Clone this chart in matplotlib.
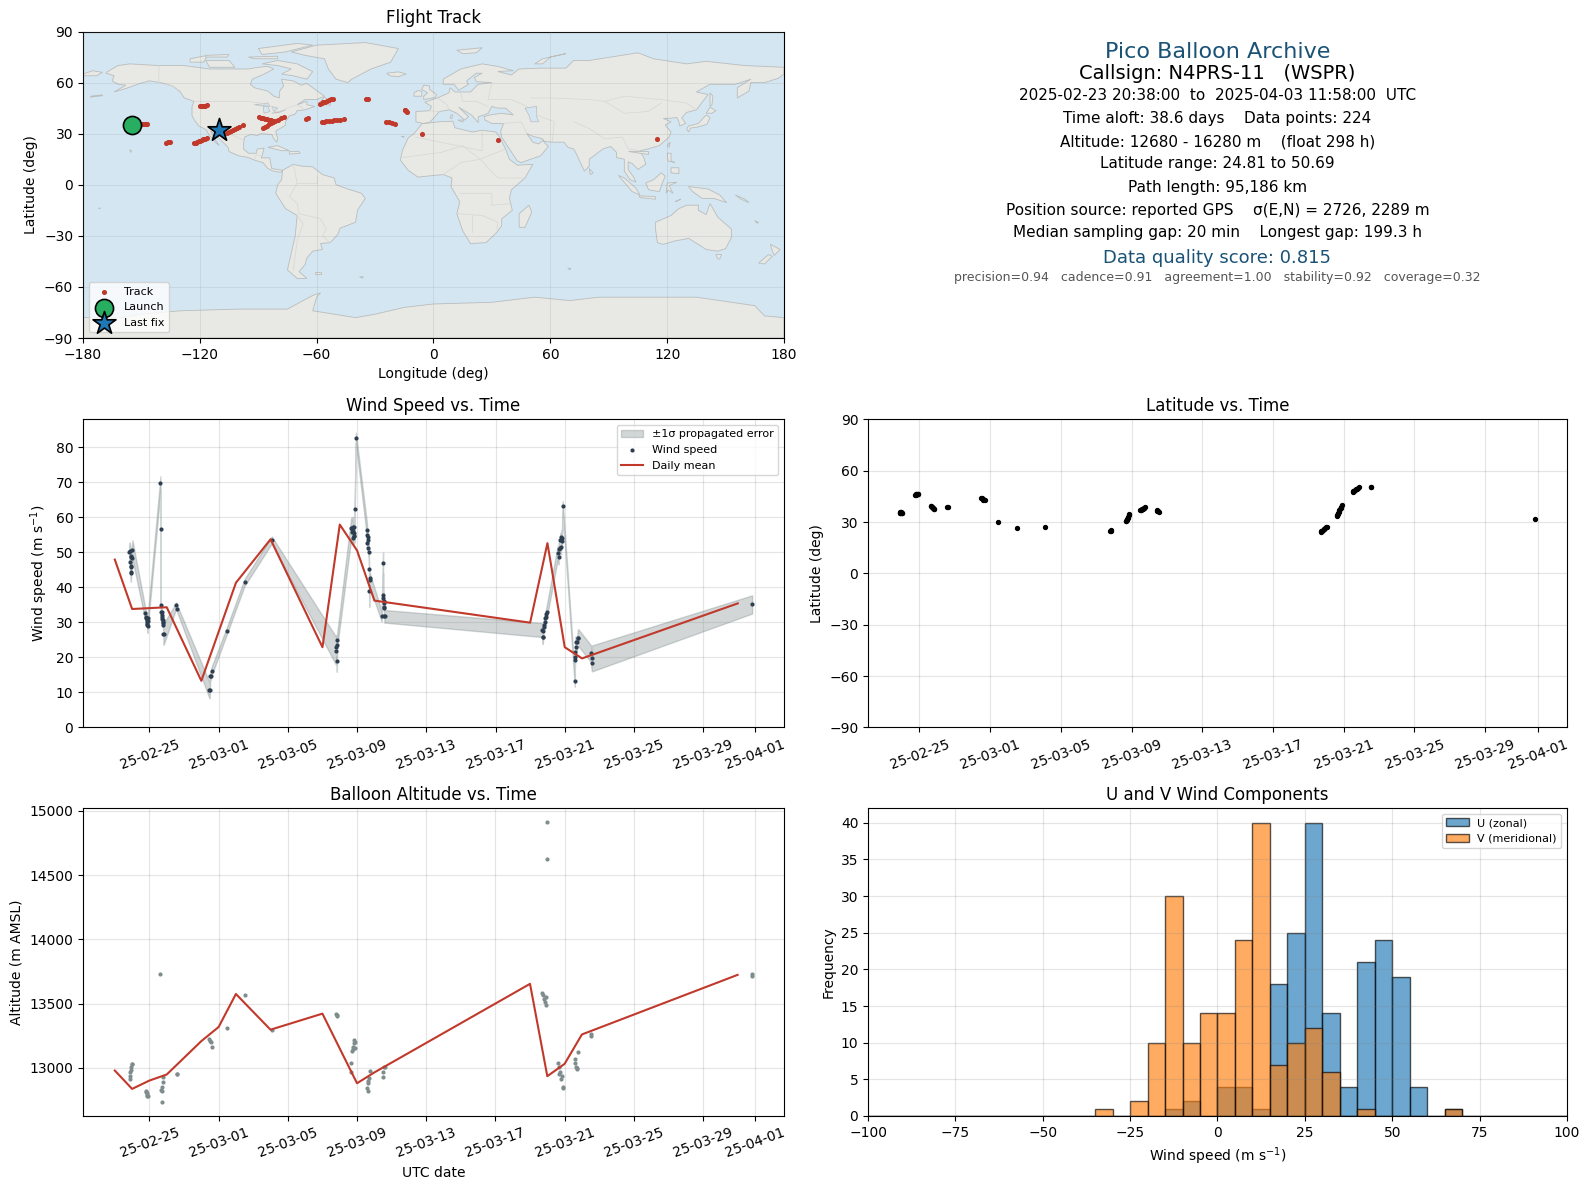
import numpy as np
import matplotlib
matplotlib.use("Agg")
import matplotlib.pyplot as plt
import matplotlib.dates as mdates
from matplotlib.patches import Polygon

# ---------- map outlines (lon, lat) ----------
north_america = [(-168,66),(-162,70),(-156,71),(-141,70),(-128,70),(-115,68),(-108,68),(-95,68),(-90,69),(-85,69.5),(-82,68),(-87,65),(-93,62),(-94,59),(-92,57),(-85,55),(-82,52),(-79,51),(-79,55),(-77,58),(-78,62),(-72,61),(-68,58.5),(-65,59.5),(-62,57),(-56,52),(-60,50),(-66,50),(-70,47),(-65,49),(-65,47),(-61,46),(-66,44),(-70,43.5),(-71,41.5),(-74,40.5),(-76,37),(-76,35),(-81,31.5),(-80,27),(-80.5,25),(-82,27),(-83,29.5),(-85,29.7),(-89,30),(-90,29),(-94,29.5),(-97,28),(-97.5,24),(-97.5,21),(-95,18.5),(-91,18.5),(-90.5,21),(-87,21.5),(-88,17),(-88.5,15.8),(-84,15.8),(-83.5,12),(-83,9.5),(-80,9),(-77.5,8.5),(-78,7.5),(-80,7.5),(-83,8.3),(-85.5,10),(-87.5,13),(-92,14.5),(-95,16),(-100,17),(-105,19.5),(-105.5,22),(-109,26),(-112.5,30),(-114.5,31.5),(-113,28),(-110,23),(-112,25),(-115,29),(-117,32.5),(-120.5,34.5),(-122.5,37.5),(-124,40.5),(-124,46),(-123,49),(-128,51),(-130,54.5),(-134,58),(-140,60),(-146,61),(-152,59),(-158,56.5),(-164,54.5),(-158,58.5),(-162,59),(-165,61),(-164,64),(-168,65.5)]
south_america = [(-77.5,8.5),(-72,12),(-68,11),(-62,10.5),(-57,6),(-51,4),(-50,0),(-44,-2.5),(-37,-5),(-35,-8),(-39,-15),(-40,-22),(-48,-25.5),(-49,-29),(-53,-34),(-58,-34.5),(-57,-38),(-62,-39),(-65,-43),(-66,-47),(-69,-51),(-65,-55),(-70,-55),(-75,-50),(-73,-40),(-71,-30),(-70,-18),(-76,-14),(-81,-5),(-80,0),(-78,3)]
africa = [(-6,35.8),(3,37),(10,37.3),(11,33.5),(20,31),(25,32),(32,31),(34,28),(37,21),(39,15),(43,11.5),(51,12),(47,4),(40,-3),(39,-8),(40.5,-15),(35,-20),(35,-24),(32.5,-28),(27,-34),(19,-34.5),(15,-27),(12,-17),(13.5,-10),(9,-1),(9.5,4),(5,6),(-4,5),(-8,4.5),(-13,8.5),(-17,14.5),(-16,20),(-13,27.5),(-10,30)]
eurasia = [(-9,37),(-9,43),(-2,43.5),(-1,46),(-4.5,48.5),(2,51),(8,54),(8.5,57),(11,54.5),(19,54.5),(23,59),(30,60),(22,60.5),(21,63),(25,65.5),(22,65.5),(17,61),(18,59),(13,55.5),(10.5,59),(5,59),(5,62),(14,68),(25,71),(33,69.5),(41,67),(33,66.5),(40,64.5),(44,68),(55,68.5),(68,68.5),(72,73),(80,73),(105,77.5),(113,74),(130,71),(140,72.5),(160,70),(180,69),(180,65),(177,62.5),(170,60),(163,60),(162,55),(156,51),(156,57),(163,62),(155,59),(142,59),(135,54.5),(141,53),(135,44),(130,42.5),(127.5,39.5),(129.5,36),(126.5,34.5),(126,37),(125,39.5),(121,39),(118,39),(122,37),(119,35),(122,31),(121,28),(116,23),(110,21),(106,20),(108,16),(109,12),(105,9),(102,12.5),(100,13.5),(100,9),(103,4),(104,1.5),(101,3),(98,8),(98,15),(94,16),(94,19),(91,22.5),(87,21),(80,15),(80,11),(77.5,8),(73,19),(72,21),(69,22),(67,25),(61,25),(57,25.5),(56,27),(51,28.5),(48,30),(51,25),(54,24),(56,26),(59,22.5),(55,17),(45,13),(43,14),(39,21),(35,28),(34.5,31.5),(36,36),(30,36),(26.5,38),(26,40),(29,41),(35,42),(41,41),(37,45),(33,45),(30,46),(28,42),(26,41),(23,40),(23,36.5),(19.5,41),(13,45.5),(18,40),(16,38),(12,42),(8,44),(3,43),(0,39),(-2,36.7),(-5.5,36)]
greenland = [(-73,78),(-60,82),(-35,83.5),(-18,80),(-22,72),(-32,68),(-42,62),(-44,60),(-50,62),(-54,68),(-56,74),(-66,76)]
australia = [(114,-22),(122,-18),(126,-14),(130,-12),(136,-12),(136,-15),(140,-17.5),(142,-11),(146,-19),(153,-26),(153,-31),(150,-37.5),(146,-39),(140,-38),(136,-35),(131,-31.5),(124,-33),(118,-35),(115,-34),(114,-26)]
antarctica = [(-180,-90),(-180,-78),(-160,-78),(-150,-76),(-130,-74),(-100,-73),(-75,-73),(-62,-65),(-58,-63.5),(-60,-66),(-62,-74),(-40,-78),(-30,-76),(-15,-72),(0,-70),(30,-69),(52,-66),(70,-68),(85,-66),(110,-66),(135,-66),(165,-71),(170,-77),(180,-78),(180,-90)]
islands = [
    [(-80,73),(-70,71),(-62,66.5),(-65,62),(-72,64),(-78,65),(-73,68),(-80,70),(-88,71)],
    [(-117,73),(-105,73),(-102,69),(-115,69)],
    [(-125,74),(-116,76),(-118,72),(-125,72)],
    [(-90,80),(-70,83),(-62,82),(-76,78),(-88,76.5)],
    [(-95,75),(-80,75.5),(-80,74),(-92,74)],
    [(-117,76),(-105,76.5),(-106,75),(-117,75)],
    [(-59,47.5),(-53,46.7),(-53,49),(-56,51.5)],
    [(-24,65.5),(-18,66.3),(-14,65),(-18,63.5),(-22.5,64)],
    [(-5,50),(1,51.3),(1.5,53),(-2,56),(-2,58),(-5,58.5),(-6,56),(-3,54),(-5,52)],
    [(-10,52),(-6,52),(-6,55),(-8,55.3),(-10,54)],
    [(12,79),(25,80.5),(22,77.5),(15,77)],
    [(52,71),(56,74),(68,77),(60,75),(56,71)],
    [(130,33),(131,34.5),(136,36),(140,41),(142,39.5),(140.5,35.5),(136,34),(132,33.3),(131,31)],
    [(140,42),(142,45.5),(145,43.5),(143,42)],
    [(142,46),(142,54),(143.5,52),(143,47)],
    [(120,23),(121.5,25),(121,22)],
    [(120,18.5),(122,18.5),(122,14),(124,13),(120.5,14)],
    [(122,10),(126,10),(126,6.5),(122,7)],
    [(109,1),(113,3),(117,7),(119,5),(117.5,1),(116,-4),(110.5,-3)],
    [(95,5.5),(98,4),(104,-2),(106,-6),(102,-4)],
    [(105.5,-6.5),(114,-7),(114,-8.5),(106,-7.5)],
    [(119.5,-5),(120,1),(125,1.5),(121,-0.5),(123,-5),(120.5,-3)],
    [(131,-1),(141,-2.5),(147,-6),(150.5,-10.5),(144,-8),(138,-8),(133,-4)],
    [(145,-41),(148,-41),(147,-43.5),(146,-43.5)],
    [(173,-35),(178,-38),(175,-41.5),(174,-39)],
    [(172,-41),(174,-42),(170,-46.5),(167,-46)],
    [(49,-12),(50.5,-16),(47,-25),(44,-25),(44,-17)],
    [(80,9.5),(82,7),(80.5,6)],
    [(-85,22),(-80,23),(-74,20),(-78,20)],
    [(-74,19.5),(-69,19.5),(-68.5,18.5),(-74,18)],
    [(-61,-51.5),(-58,-51.5),(-58,-52.3),(-61,-52.3)],
    [(-156,20.5),(-155,20),(-155.5,19)],
    [(-180,65),(-175,67),(-170,66),(-173,64),(-180,64)],
    [(155,-6),(160,-8.5),(162,-10.5),(158,-8.5)],
    [(165,-21),(167,-22.2),(166,-22.5)],
    [(-172,-14),(-171,-14),(-171.5,-13.5)],
    [(69,-49),(70.5,-49),(70,-50)],
    [(9,41),(9.8,41),(9.5,39),(8.5,39)],
    [(12.5,38),(15.5,38),(15,36.8)],
    [(-16.5,28.5),(-15,28.3),(-15.5,27.8)],
    [(-38,-54),(-36,-54),(-36.5,-54.8)],
    [(-176,52),(-170,52.8),(-170,52.3),(-176,51.5)],
    [(126,-9),(127,-8.4),(124,-10)],
    [(100,20),(110,20),(110,18.3)],
]
lakes = [
    [(-92,47),(-85,48),(-84,46),(-88,46.5)],
    [(-87.5,46),(-85,46),(-84,43),(-87,42)],
    [(-83,46),(-80,45),(-82,43)],
    [(-83,42),(-79,43),(-76,44),(-79,42.5)],
    [(47,45),(53,46),(53,40),(54,37),(50,37),(49,41)],
]
borders = [
    [(-123,49),(-95,49),(-89,48),(-83,46),(-82,43),(-79,43),(-75,45),(-70,47),(-67,45)],
    [(-141,70),(-141,60),(-134,58),(-130,55)],
    [(-117,32.5),(-108,31.5),(-104,29.5),(-97,26)],
    [(-92,14.5),(-91,17.5),(-88,17)],
    [(-72,12),(-70,1),(-74,-7),(-70,-11),(-69,-17),(-58,-20),(-55,-26),(-57,-30),(-53,-34)],
    [(-70,-18),(-67,-23),(-70,-33),(-72,-50)],
    [(-60,5),(-60,1),(-70,1)],
    [(-9,28),(12,23),(25,20),(25,32)],
    [(-16,16),(4,19),(15,23),(24,15),(37,21)],
    [(5,6),(14,13),(24,15),(33,4),(47,4)],
    [(13.5,-5),(30,-5),(30,-12),(40.5,-11)],
    [(12,-17),(25,-18),(33,-22),(32.5,-26)],
    [(20,-28),(20,-18)],
    [(30,60),(28,50),(40,50),(48,46)],
    [(53,41),(62,37),(61,25)],
    [(48,30),(45,37),(36,36)],
    [(72,37),(80,33),(88,27),(97,28),(100,21),(106,20)],
    [(50,51),(60,51),(80,50),(88,49),(98,52),(117,50),(130,48),(135,44)],
    [(88,49),(98,42),(110,43),(117,48)],
    [(2,51),(7,47),(8,44)],
    [(-2,43.5),(3,43)],
    [(14,54),(15,49),(22,49),(28,46)],
]

# ---------- track ----------
track_days = [-1.11,-1.10,-1.09,-1.07,-1.05,-1.03,-1.01,-0.99,
              -0.25,-0.22,-0.2,-0.17,-0.14,-0.11,-0.08,
              0.64,0.66,0.7,0.73,0.76,0.79,0.82,0.85,
              1.58,1.62,
              3.47,3.52,3.57,3.62,3.68,
              4.44,5.49,7.09,
              10.78,10.82,10.85,
              11.66,11.69,11.72,11.75,11.78,11.81,11.84,11.87,
              12.47,12.51,12.55,12.58,12.61,12.65,12.68,12.72,12.75,
              13.42,13.45,13.5,13.54,
              22.7,22.74,22.78,22.82,22.86,22.9,22.94,22.98,23.03,
              23.6,23.64,23.67,23.7,23.73,23.76,23.79,23.82,23.86,23.9,
              24.5,24.55,24.6,24.65,24.7,24.75,24.8,24.85,
              25.52,25.56,
              34.83]
track_lon = [-155,-153,-151,-150,-149,-148,-147.5,-147,
             -120,-119.5,-119,-118.5,-118,-117.5,-116.5,
             -89.5,-88.5,-87.5,-86.5,-85.5,-84.5,-83.5,-82.5,
             -65.5,-64.5,
             -14.8,-14.5,-14.2,-14,-13.7,
             -6,33,115,
             -137.5,-136.5,-135.5,
             -106,-105,-104,-103,-102,-101,-100,-98,
             -57.5,-56,-55,-53.5,-52,-51,-49.5,-48,-46,
             -24.5,-23,-21.5,-20,
             -123,-122,-121.5,-120.5,-120,-119,-118.5,-117.5,-116.5,
             -87.5,-86.5,-85.5,-84.5,-83.5,-82.5,-81.5,-80,-78.5,-77,
             -58.5,-57.5,-56.5,-55.5,-54.5,-53.5,-52.5,-51.5,
             -34.5,-33.5,
             -110]
track_lat = [35.4,35.6,35.8,35.8,35.7,35.6,35.5,35.4,
             46.0,46.1,46.2,46.3,46.4,46.5,46.6,
             39.6,39.4,39.0,38.8,38.4,38.1,37.9,37.6,
             38.9,39.1,
             44.1,43.9,43.5,43.1,42.7,
             30.0,26.5,27.0,
             24.7,24.9,25.2,
             30.4,30.9,31.5,32.1,32.7,33.2,33.9,34.9,
             36.9,37.1,37.2,37.5,37.6,37.8,38.0,38.3,38.6,
             36.9,36.6,36.3,35.9,
             24.5,24.8,25.1,25.5,25.8,26.2,26.6,27.0,27.4,
             33.4,34.1,34.8,35.5,36.2,36.9,37.6,38.3,39.0,39.8,
             47.6,48.0,48.4,48.8,49.2,49.6,50.1,50.5,
             50.5,50.3,
             32.0]
launch_lon, launch_lat = -155.0, 35.3
last_lon, last_lat = -110.0, 32.0

# ---------- wind speed ----------
wind_days = [-1.16,-1.13,-1.10,-1.09,-1.08,-1.07,-1.06,-1.05,-1.04,-1.03,-0.98,
             -0.25,-0.2,-0.17,-0.15,-0.14,-0.13,-0.12,-0.11,-0.10,-0.08,
             0.64,0.645,0.65,0.66,0.70,0.72,0.73,0.75,0.76,0.78,0.79,0.80,0.81,0.83,
             1.56,1.62,
             3.47,3.48,3.51,3.55,3.59,
             4.46,5.5,7.07,
             10.78,10.80,10.82,10.83,10.85,
             11.66,11.68,11.70,11.72,11.74,11.76,11.78,11.80,11.81,11.83,11.84,11.86,11.93,
             12.57,12.58,12.59,12.63,12.64,12.66,12.68,12.69,12.70,12.72,12.74,
             13.42,13.50,13.51,13.52,13.53,13.55,13.56,13.57,13.58,13.63,
             22.69,22.72,22.74,22.76,22.78,22.80,22.84,22.87,22.90,22.93,22.96,
             23.59,23.64,23.66,23.70,23.75,23.78,23.80,23.82,23.84,23.88,
             24.58,24.59,24.60,24.61,24.63,24.65,24.73,24.76,24.79,
             25.51,25.56,25.58,
             34.83]
wind_speed = [50.0,50.3,47.3,45.7,44.5,44.0,46.0,48.6,49.0,48.4,50.7,
              32.6,31.4,31.1,30.6,30.2,29.6,29.2,29.0,30.4,31.2,
              69.7,56.6,34.9,32.9,33.0,32.0,31.6,31.0,30.7,30.0,29.7,29.1,26.7,26.7,
              34.9,33.7,
              10.6,10.7,14.6,14.8,16.0,
              27.4,41.4,53.5,
              21.9,22.9,23.5,18.9,24.9,
              56.9,56.6,55.9,56.9,57.1,56.0,54.0,54.5,55.5,57.1,54.7,62.3,82.6,
              56.3,55.0,52.6,54.4,53.5,51.1,50.2,45.1,38.9,42.6,42.0,
              31.7,46.9,37.7,36.8,36.2,35.4,34.5,34.0,31.7,31.7,
              27.8,25.8,25.8,27.4,28.8,29.3,30.0,31.1,31.6,32.3,33.0,
              49.9,48.5,50.9,51.2,53.5,51.4,54.3,53.3,54.0,63.1,
              13.3,19.2,20.1,21.6,24.3,23.0,24.5,25.6,25.6,
              21.1,18.3,19.7,
              35.1]
wind_sigma = [2.5,2.5,2.5,2.5,2.4,2.4,2.4,2.4,2.5,2.5,2.7,
              1.8,1.8,1.8,1.8,1.8,1.8,1.8,2.0,1.8,1.8,
              2.0,1.5,1.5,1.5,1.5,1.5,1.5,1.5,1.5,1.5,1.5,1.5,3.1,3.0,
              0.8,1.0,
              2.3,2.3,1.2,1.2,1.2,
              1.0,1.0,1.0,
              4.0,3.5,3.0,3.0,2.0,
              3.0,3.0,3.0,3.0,3.0,3.0,2.0,2.0,2.0,2.5,2.0,2.0,1.5,
              2.0,2.0,2.0,2.0,2.0,2.0,2.0,2.0,4.5,2.0,2.0,
              1.5,3.0,2.5,2.0,2.0,2.0,2.0,2.0,1.8,1.8,
              2.0,2.0,1.5,1.5,1.5,1.5,1.5,1.5,1.5,1.8,1.8,
              2.0,2.0,2.0,2.0,2.0,2.0,2.0,2.0,2.0,1.5,
              1.7,1.7,1.7,1.7,1.7,2.0,2.0,2.4,2.4,
              2.4,2.2,3.7,
              2.6]
wind_mean_days = [-2,-1,1,3,5,7,10,11,12,13,22,23,24,25,34]
wind_mean = [47.9,33.8,34.3,13.3,41.3,53.7,22.9,57.9,50.5,36.2,29.9,52.6,22.9,19.7,35.4]

# ---------- altitude ----------
alt_days = [-1.15,-1.13,-1.1,-1.08,-1.05,-1.02,-0.98,
            -0.2,-0.18,-0.15,-0.14,-0.12,-0.1,
            0.64,0.66,0.7,0.72,0.74,0.76,0.78,
            1.58,1.62,
            3.47,3.51,3.55,3.59,
            4.46,5.5,7.07,
            10.78,10.82,10.84,
            11.66,11.68,11.72,11.75,11.78,11.80,11.85,11.86,11.87,
            12.57,12.62,12.63,12.66,12.70,12.74,
            13.5,13.53,13.56,13.6,
            22.7,22.75,22.8,22.85,22.9,22.93,22.96,22.97,
            23.59,23.66,23.7,23.75,23.8,23.85,23.88,23.9,
            24.58,24.6,24.63,24.69,24.73,24.79,
            25.51,25.55,
            34.83,34.84]
alt_m = [12914,12940,12966,12984,13005,13026,13031,
         12823,12810,12802,12792,12784,12779,
         13734,12828,12849,12734,12823,12927,12888,
         12950,12950,
         13221,13208,13200,13164,
         13312,13570,13292,
         13422,13412,13405,
         12969,13039,13130,13150,13165,13190,13219,13155,13200,
         12841,12880,12818,12896,12920,12974,
         12927,12966,13005,13010,
         13586,13565,13539,13513,13487,13552,14914,14625,
         13039,12953,13005,12966,12914,12940,12841,12849,
         13070,13040,13010,12992,12997,13125,
         13245,13260,
         13712,13728]
alt_mean_days = [-2,-1,0,1,3,4,5,7,10,12,13,22,23,24,25,34]
alt_mean = [12979,12836,12901,12948,13208,13318,13575,13297,13422,12880,12964,13654,12935,13031,13260,13724]

# ---------- wind components ----------
bin_edges = list(range(-100,105,5))
bin_left = bin_edges[:-1]
u_counts = [0]*17 + [1,2,0,4,4,1,18,25,40,14,4,21,24,19,4,0,1] + [0]*6
v_counts = [0]*13 + [1,0,2,10,30,10,14,14,24,40,7,10,12,6,0,1,0,0,0,0,1] + [0]*6
u_counts = u_counts[:40]; v_counts = v_counts[:40]

# ---------- labels ----------
date_fmt = '%y-%m-%d'
info_lines = [
    ("Pico Balloon Archive", 16, '#1a5276', 0.9345),
    ("Callsign: N4PRS-11   (WSPR)", 14, 'black', 0.862),
    ("2025-02-23 20:38:00  to  2025-04-03 11:58:00  UTC", 11, 'black', 0.792),
    ("Time aloft: 38.6 days    Data points: 224", 11, 'black', 0.717),
    ("Altitude: 12680 - 16280 m    (float 298 h)", 11, 'black', 0.641),
    ("Latitude range: 24.81 to 50.69", 11, 'black', 0.568),
    ("Path length: 95,186 km", 11, 'black', 0.492),
    ("Position source: reported GPS    σ(E,N) = 2726, 2289 m", 11, 'black', 0.417),
    ("Median sampling gap: 20 min    Longest gap: 199.3 h", 11, 'black', 0.344),
    ("Data quality score: 0.815", 13, '#1a5276', 0.261),
    ("precision=0.94   cadence=0.91   agreement=1.00   stability=0.92   coverage=0.32", 9, '#555555', 0.198),
]

RED = '#c0392b'; NAVY = '#2c3e50'; SLATE = '#7f8c8d'
OCEAN = '#d4e6f1'; LAND = '#e8e8e4'

def to_dates(d):
    return mdates.date2num(np.datetime64('2025-02-25')) + np.asarray(d, dtype=float)

fig = plt.figure(figsize=(15.89, 11.89), dpi=100)
L, WL, R, WR = 0.0522, 0.4412, 0.5463, 0.4398
rows = [(0.7157, 0.2578), (0.3882, 0.2590), (0.0614, 0.2590)]
ax_map = fig.add_axes([L, rows[0][0], WL, rows[0][1]])
ax_info = fig.add_axes([R, rows[0][0], WR, rows[0][1]])
ax_wind = fig.add_axes([L, rows[1][0], WL, rows[1][1]])
ax_lat = fig.add_axes([R, rows[1][0], WR, rows[1][1]])
ax_alt = fig.add_axes([L, rows[2][0], WL, rows[2][1]])
ax_hist = fig.add_axes([R, rows[2][0], WR, rows[2][1]])

# map
ax_map.set_facecolor(OCEAN)
for poly in [north_america, south_america, africa, eurasia, greenland, australia, antarctica] + islands:
    ax_map.add_patch(Polygon(poly, closed=True, fc=LAND, ec='#b9bdbd', lw=0.6, zorder=1))
for poly in lakes:
    ax_map.add_patch(Polygon(poly, closed=True, fc=OCEAN, ec='#b9bdbd', lw=0.5, zorder=1.1))
for line in borders:
    xs, ys = zip(*line)
    ax_map.plot(xs, ys, color='#d6d7d4', lw=0.5, zorder=1.2)
ax_map.grid(True, color='gray', alpha=0.15, lw=0.7, zorder=1.5)
ax_map.set_axisbelow(False)
ax_map.scatter(track_lon, track_lat, s=7, color=RED, zorder=3, label='Track')
ax_map.scatter([launch_lon], [launch_lat], s=170, color='#27ae60', edgecolor='black', lw=1.2, zorder=4, label='Launch')
ax_map.scatter([last_lon], [last_lat], s=300, marker='*', color='#1f77b4', edgecolor='black', lw=1.2, zorder=5, label='Last fix')
ax_map.set_xlim(-180, 180); ax_map.set_ylim(-90, 90)
ax_map.set_xticks(range(-180, 181, 60)); ax_map.set_yticks(range(-90, 91, 30))
ax_map.set_xlabel('Longitude (deg)'); ax_map.set_ylabel('Latitude (deg)')
ax_map.set_title('Flight Track', fontsize=12)
ax_map.legend(loc='lower left', fontsize=8)

# info
ax_info.axis('off')
for text, size, color, y in info_lines:
    ax_info.text(0.5, y, text, fontsize=size, color=color, ha='center', va='center', transform=ax_info.transAxes)

# wind
wd = to_dates(wind_days); ws = np.array(wind_speed); wsig = np.array(wind_sigma)
ax_wind.fill_between(wd, ws - wsig, ws + wsig, color=SLATE, alpha=0.35, label='±1σ propagated error')
ax_wind.scatter(wd, ws, s=4, color=NAVY, zorder=3, label='Wind speed')
ax_wind.plot(to_dates(wind_mean_days), wind_mean, color=RED, lw=1.5, zorder=4, label='Daily mean')
ax_wind.set_ylim(bottom=0)
ax_wind.set_ylabel('Wind speed (m s$^{-1}$)')
ax_wind.set_title('Wind Speed vs. Time', fontsize=12)
ax_wind.legend(loc='upper right', fontsize=8)

# latitude
ax_lat.scatter(to_dates(track_days), track_lat, s=8, color='black', zorder=3)
ax_lat.set_ylim(-90, 90); ax_lat.set_yticks(range(-90, 91, 30))
ax_lat.set_ylabel('Latitude (deg)')
ax_lat.set_title('Latitude vs. Time', fontsize=12)

# altitude
ax_alt.scatter(to_dates(alt_days), alt_m, s=4, color=SLATE, zorder=3)
ax_alt.plot(to_dates(alt_mean_days), alt_mean, color=RED, lw=1.5, zorder=4)
ax_alt.set_ylabel('Altitude (m AMSL)')
ax_alt.set_xlabel('UTC date')
ax_alt.set_title('Balloon Altitude vs. Time', fontsize=12)

for ax in (ax_wind, ax_lat, ax_alt):
    ax.xaxis.set_major_locator(mdates.DayLocator(bymonthday=range(1, 32, 4)))
    ax.xaxis.set_major_formatter(mdates.DateFormatter(date_fmt))
    ax.tick_params(axis='x', labelrotation=20)
    ax.grid(True, color='gray', alpha=0.2, lw=0.9)
    ax.set_axisbelow(True)

# histogram
ax_hist.hist(bin_left, bins=bin_edges, weights=u_counts, color='#1f77b4', alpha=0.65, edgecolor='black', label='U (zonal)')
ax_hist.hist(bin_left, bins=bin_edges, weights=v_counts, color='#ff7f0e', alpha=0.65, edgecolor='black', label='V (meridional)')
ax_hist.set_xlim(-100, 100); ax_hist.set_ylim(0, 42)
ax_hist.set_xlabel('Wind speed (m s$^{-1}$)'); ax_hist.set_ylabel('Frequency')
ax_hist.set_title('U and V Wind Components', fontsize=12)
ax_hist.grid(True, color='gray', alpha=0.2, lw=0.9)
ax_hist.legend(loc='upper right', fontsize=8)

fig.savefig('out.png', dpi=100)
